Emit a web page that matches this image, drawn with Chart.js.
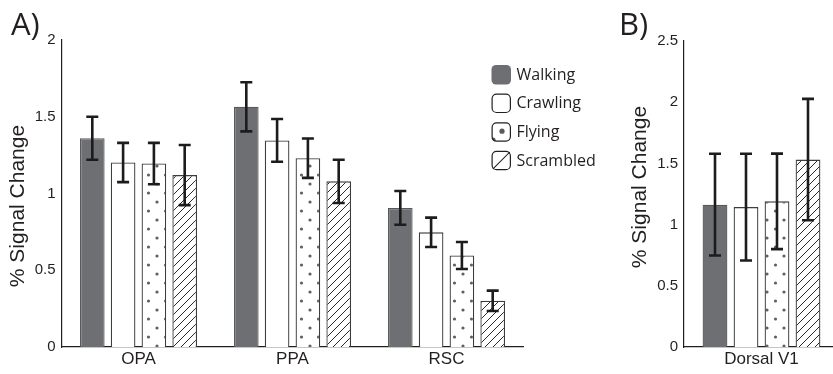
<!DOCTYPE html>
<html>
<head>
<meta charset="utf-8">
<script src="https://cdn.jsdelivr.net/npm/chart.js@4/dist/chart.umd.min.js"></script>
<style>
  html, body { margin: 0; padding: 0; background: #fff; overflow: hidden; width: 833px; height: 374px; }
  #wrap { position: relative; width: 833px; height: 374px; }
  canvas { position: absolute; top: 0; }
  #panelA { left: 0; }
  #panelB { left: 610px; }
</style>
</head>
<body>
<div id="wrap">
  <canvas id="panelA" width="610" height="374"></canvas>
  <canvas id="panelB" width="229" height="374"></canvas>
</div>
<script>
// Regions of interest (panel A) and dorsal V1 (panel B)
const regionsA = ['OPA', 'PPA', 'RSC'];
const regionsB = ['Dorsal V1'];
const conditions = ['Walking', 'Crawling', 'Flying', 'Scrambled'];

// Mean % signal change per condition
const walkingA   = [1.36, 1.565, 0.906];
const crawlingA  = [1.202, 1.346, 0.747];
const flyingA    = [1.195, 1.23, 0.596];
const scrambledA = [1.12, 1.079, 0.301];

// Standard error (half-height of each error bar)
const walkingErrA   = [0.14, 0.16, 0.11];
const crawlingErrA  = [0.128, 0.139, 0.096];
const flyingErrA    = [0.135, 0.128, 0.088];
const scrambledErrA = [0.196, 0.141, 0.066];

const walkingB   = [1.163];
const crawlingB  = [1.143];
const flyingB    = [1.19];
const scrambledB = [1.531];

const walkingErrB   = [0.416];
const crawlingErrB  = [0.436];
const flyingErrB    = [0.39];
const scrambledErrB = [0.496];

const ticksA = [0, 0.5, 1, 1.5, 2];
const ticksB = [0, 0.5, 1, 1.5, 2, 2.5];
const yTitle = '% Signal Change';

const SANS = '"Liberation Sans", Arial, Helvetica, sans-serif';
const ROUND = '"Open Sans", "Liberation Sans", sans-serif';
const INK = '#231f20';

Chart.defaults.font.family = SANS;
Chart.defaults.color = INK;

// Fill patterns
function makePattern(w, h, paint) {
  const c = document.createElement('canvas');
  c.width = w; c.height = h;
  const g = c.getContext('2d');
  g.fillStyle = '#ffffff';
  g.fillRect(0, 0, w, h);
  paint(g);
  return g.createPattern(c, 'repeat');
}
const dotFill = makePattern(17, 18, g => {
  g.fillStyle = '#5f6063';
  [[4, 4], [12.5, 13]].forEach(([x, y]) => {
    g.beginPath(); g.arc(x, y, 1.6, 0, Math.PI * 2); g.fill();
  });
});
const hatchFill = makePattern(8, 8, g => {
  g.strokeStyle = '#2a2a2c';
  g.lineWidth = 1;
  g.beginPath();
  g.moveTo(0, 8); g.lineTo(8, 0);
  g.moveTo(-1, 1); g.lineTo(1, -1);
  g.moveTo(7, 9); g.lineTo(9, 7);
  g.stroke();
});

const styles = [
  { backgroundColor: '#6e6f72', borderColor: '#58595b' },
  { backgroundColor: '#ffffff', borderColor: '#3d3d3f' },
  { backgroundColor: dotFill,   borderColor: '#3d3d3f' },
  { backgroundColor: hatchFill, borderColor: '#3d3d3f' }
];

function buildDatasets(values, errors) {
  return values.map((v, i) => Object.assign({
    label: conditions[i],
    data: v,
    errors: errors[i],
    borderWidth: 1.3,
    categoryPercentage: 0.8,
    barPercentage: 0.8
  }, styles[i]));
}

// Error bars drawn from each bar's value and its error through the y scale
const errorBars = {
  id: 'errorBars',
  afterDatasetsDraw(chart) {
    const ctx = chart.ctx;
    const y = chart.scales.y;
    ctx.save();
    ctx.strokeStyle = '#1c1c1c';
    ctx.lineWidth = 2.6;
    chart.data.datasets.forEach((ds, i) => {
      chart.getDatasetMeta(i).data.forEach((bar, j) => {
        const v = ds.data[j], e = ds.errors[j];
        const top = y.getPixelForValue(v + e);
        const bot = y.getPixelForValue(v - e);
        const x = bar.x, cap = 6;
        ctx.beginPath();
        ctx.moveTo(x, top); ctx.lineTo(x, bot);
        ctx.moveTo(x - cap, top); ctx.lineTo(x + cap, top);
        ctx.moveTo(x - cap, bot); ctx.lineTo(x + cap, bot);
        ctx.stroke();
      });
    });
    ctx.restore();
  }
};

// Panel letter and rotated y-axis title
function panelText(letter, lx, ly, tx, ty) {
  return {
    id: 'panelText',
    afterDraw(chart) {
      const ctx = chart.ctx;
      ctx.save();
      ctx.fillStyle = INK;
      ctx.font = '31px ' + ROUND;
      ctx.textBaseline = 'alphabetic';
      ctx.textAlign = 'left';
      ctx.fillText(letter, lx, ly);
      ctx.translate(tx, ty);
      ctx.rotate(-Math.PI / 2);
      ctx.font = '21px ' + SANS;
      ctx.textAlign = 'center';
      ctx.textBaseline = 'middle';
      ctx.fillText(yTitle, 0, 0);
      ctx.restore();
    }
  };
}

// Condition key with rounded swatches
const conditionKey = {
  id: 'conditionKey',
  afterDraw(chart) {
    const ctx = chart.ctx;
    const x0 = 491.5, y0 = 65, size = 19.5, step = 28.6;
    ctx.save();
    conditions.forEach((name, i) => {
      const y = y0 + i * step;
      ctx.beginPath();
      ctx.roundRect(x0, y, size, size, 4.5);
      if (i === 0) {
        ctx.fillStyle = '#6e6f72';
        ctx.fill();
      } else {
        ctx.fillStyle = '#ffffff';
        ctx.fill();
        ctx.save();
        ctx.clip();
        if (i === 2) {
          ctx.fillStyle = '#58595b';
          ctx.beginPath(); ctx.arc(x0 + 10.5, y + 9, 2.6, 0, Math.PI * 2); ctx.fill();
          ctx.beginPath(); ctx.arc(x0 + 1.5, y + size - 1.5, 2.6, 0, Math.PI * 2); ctx.fill();
        } else if (i === 3) {
          ctx.strokeStyle = INK;
          ctx.lineWidth = 1.1;
          ctx.beginPath(); ctx.moveTo(x0, y + size); ctx.lineTo(x0 + size, y); ctx.stroke();
        }
        ctx.restore();
        ctx.beginPath();
        ctx.roundRect(x0 + 0.6, y + 0.6, size - 1.2, size - 1.2, 4.5);
        ctx.strokeStyle = INK;
        ctx.lineWidth = 1.2;
        ctx.stroke();
      }
      ctx.font = '16px ' + ROUND;
      ctx.fillStyle = INK;
      ctx.textBaseline = 'middle';
      ctx.textAlign = 'left';
      ctx.fillText(name, x0 + 25, y + size / 2 + 0.5);
    });
    ctx.restore();
  }
};

function scalesFor(max, ticks, axisWidth) {
  return {
    x: {
      grid: { display: false, drawTicks: false },
      border: { display: true, color: INK, width: 1.2 },
      ticks: { font: { size: 17 }, padding: 2, color: INK },
      afterFit(scale) { scale.height = 27; }
    },
    y: {
      min: 0, max: max,
      afterBuildTicks(scale) { scale.ticks = ticks.map(v => ({ value: v })); },
      grid: { display: false, drawTicks: false },
      border: { display: true, color: INK, width: 1.2 },
      ticks: { font: { size: 15 }, padding: 6, color: INK, callback: v => String(v) },
      afterFit(scale) { scale.width = axisWidth; }
    }
  };
}

const common = {
  responsive: false,
  animation: false,
  devicePixelRatio: 1,
  plugins: { legend: { display: false }, tooltip: { enabled: false } }
};

new Chart(document.getElementById('panelA'), {
  type: 'bar',
  data: {
    labels: regionsA,
    datasets: buildDatasets(
      [walkingA, crawlingA, flyingA, scrambledA],
      [walkingErrA, crawlingErrA, flyingErrA, scrambledErrA])
  },
  options: Object.assign({}, common, {
    layout: { autoPadding: false, padding: { top: 40, right: 86.5, bottom: 0, left: 0 } },
    scales: scalesFor(2, ticksA, 61.5)
  }),
  plugins: [errorBars, conditionKey, panelText('A)', 11, 35, 18, 206)]
});

new Chart(document.getElementById('panelB'), {
  type: 'bar',
  data: {
    labels: regionsB,
    datasets: buildDatasets(
      [walkingB, crawlingB, flyingB, scrambledB],
      [walkingErrB, crawlingErrB, flyingErrB, scrambledErrB])
  },
  options: Object.assign({}, common, {
    layout: { autoPadding: false, padding: { top: 41, right: 0, bottom: 0, left: 0 } },
    scales: scalesFor(2.5, ticksB, 74)
  }),
  plugins: [errorBars, panelText('B)', 9, 35, 30, 187)]
});
</script>
</body>
</html>
